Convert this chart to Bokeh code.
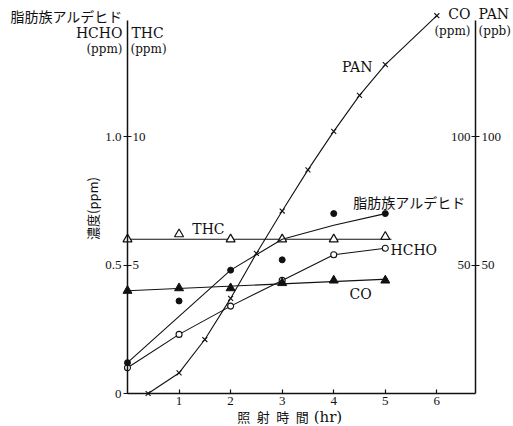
import math
from bokeh.plotting import figure
from bokeh.models import Range1d, LinearAxis, FixedTicker
from bokeh.core.properties import value
from bokeh.embed import file_html
from bokeh.resources import INLINE

# Irradiation time (hr) and measured concentrations
hours = [0, 1, 2, 3, 4, 5]
thc_ppm = [6.0, 6.2, 6.0, 6.0, 6.0, 6.1]
thc_fit_hours = [0, 5.12]
thc_fit_ppm = [6.0, 6.0]
co_ppm = [40, 41, 41, 43, 44, 44]
co_fit_hours = [0, 5.05]
co_fit_ppm = [40, 44.5]
hcho_ppm = [0.10, 0.23, 0.34, 0.44, 0.54, 0.565]
ald_ppm = [0.12, 0.36, 0.48, 0.52, 0.70, 0.70]
ald_curve_ppm = [0.12, 0.30, 0.48, 0.60, 0.655, 0.70]
pan_hours = [0.4, 1, 1.5, 2, 2.5, 3, 3.5, 4, 4.5, 5, 6]
pan_ppb = [0, 8, 21, 37, 54.5, 71, 87, 102, 116, 128, 147]

x_ticks = [1, 2, 3, 4, 5, 6]
left_ticks = [0, 0.5, 1.0]
left_labels = ["0", "0.5", "1.0"]
thc_ticks = [10, 5]
co_ticks = [100, 50]
pan_ticks = [50, 100]

SERIF = "DejaVu Serif"
NUM = "Liberation Serif"
JP = "Noto Sans CJK JP"
INK = "#111111"

T_END = 6.75          # time at the right-hand axis
# the frame fills the whole canvas; axes are pinned at fixed data positions
p = figure(width=513, height=426, output_backend="svg", toolbar_location=None,
           x_range=Range1d(-2.4631, 7.4864), y_range=Range1d(-0.1284, 1.5292),
           min_border=0, min_border_left=0, min_border_right=0,
           min_border_top=0, min_border_bottom=0)
p.extra_y_ranges = {"thc": Range1d(-1.284, 15.292),
                    "co": Range1d(-12.84, 152.92),
                    "pan": Range1d(-12.84, 152.92)}
p.xgrid.visible = False
p.ygrid.visible = False
p.outline_line_color = None
p.background_fill_color = "white"
p.border_fill_color = "white"


def style_axis(ax, tick_in, tick_out, standoff):
    ax.major_tick_in = tick_in
    ax.major_tick_out = tick_out
    ax.minor_tick_line_color = None
    ax.axis_line_width = 1.5
    ax.axis_line_color = INK
    ax.major_tick_line_color = INK
    ax.major_tick_line_width = 1.2
    ax.major_label_standoff = standoff
    ax.major_label_text_font = NUM
    ax.major_label_text_font_size = "13px"
    ax.major_label_text_color = INK


# bottom axis: time
xa = p.xaxis[0]
xa.fixed_location = 0
xa.ticker = FixedTicker(ticks=x_ticks)
xa.bounds = (0, T_END)
style_axis(xa, 4, 0, 3)

# left axis: HCHO / aldehyde (ppm)
ya = p.yaxis[0]
ya.fixed_location = 0
ya.ticker = FixedTicker(ticks=left_ticks)
ya.major_label_overrides = dict(zip(left_ticks, left_labels))
ya.bounds = (0, 1.45)
style_axis(ya, 4, 4, 2)

# right axis: PAN (ppb)
ra = LinearAxis(y_range_name="pan", ticker=FixedTicker(ticks=pan_ticks),
                bounds=(0, 145), fixed_location=T_END)
style_axis(ra, 4, 4, 2)
p.add_layout(ra, "right")


def txt(x, y, s, align, font, size, rng="default", angle=0.0):
    p.text(x=[x], y=[y], text=[s], y_range_name=rng, angle=angle,
           text_align=align, text_baseline="middle",
           text_font=value(font), text_font_size=size, text_color=INK)


# inner scale labels: THC beside the left axis, CO beside the right axis
p.text(x=[0] * len(thc_ticks), y=thc_ticks, text=[str(t) for t in thc_ticks], y_range_name="thc",
       x_offset=5, text_align="left", text_baseline="middle",
       text_font=value(NUM), text_font_size="13px", text_color=INK)
p.text(x=[T_END] * len(co_ticks), y=co_ticks, text=[str(t) for t in co_ticks], y_range_name="co",
       x_offset=-5, text_align="right", text_baseline="middle",
       text_font=value(NUM), text_font_size="13px", text_color=INK)

LW = 1.1
# THC
p.line(thc_fit_hours, thc_fit_ppm, y_range_name="thc", line_color=INK, line_width=LW)
p.scatter(hours, thc_ppm, y_range_name="thc", marker="triangle", size=9,
          fill_color="white", line_color=INK, line_width=1.2)
# CO
p.line(co_fit_hours, co_fit_ppm, y_range_name="co", line_color=INK, line_width=LW)
# HCHO
p.line(hours, hcho_ppm, line_color=INK, line_width=LW)
p.scatter(hours, hcho_ppm, marker="circle", size=6, fill_color="white", line_color=INK, line_width=1.1)
p.scatter(hours, co_ppm, y_range_name="co", marker="triangle", size=9,
          fill_color=INK, line_color=INK)
# aliphatic aldehydes
p.line(hours, ald_curve_ppm, line_color=INK, line_width=LW)
p.scatter(hours, ald_ppm, marker="circle", size=6, fill_color=INK, line_color=INK)
# PAN
p.line(pan_hours, pan_ppb, y_range_name="pan", line_color=INK, line_width=LW)
p.scatter(pan_hours, pan_ppb, y_range_name="pan", marker="x", size=7, line_color=INK, line_width=1.1)

# series names
txt(4.75, 1.272, "PAN", "right", SERIF, "14px")
txt(1.57, 0.642, "THC", "center", SERIF, "14px")
txt(4.38, 0.747, "脂肪族アルデヒド", "left", JP, "14px")
txt(5.10, 0.560, "HCHO", "left", SERIF, "14px")
txt(4.52, 0.389, "CO", "center", SERIF, "14px")

# scale headers above the axes
txt(-2.269, 1.467, "脂肪族アルデヒド", "left", JP, "14px")
txt(-0.097, 1.401, "HCHO", "right", SERIF, "14px")
txt(0.078, 1.401, "THC", "left", SERIF, "14px")
txt(-0.097, 1.339, "(ppm)", "right", SERIF, "12px")
txt(0.058, 1.339, "(ppm)", "left", SERIF, "12px")
txt(6.653, 1.475, "CO", "right", SERIF, "14px")
txt(6.808, 1.475, "PAN", "left", SERIF, "14px")
txt(6.653, 1.412, "(ppm)", "right", SERIF, "12px")
txt(6.808, 1.412, "(ppb)", "left", SERIF, "12px")

# axis titles
txt(2.13, -0.0895, "照\u2002射\u2002時\u2002間", "left", JP, "13px")
txt(3.61, -0.0895, "(hr)", "left", SERIF, "15px")
txt(-0.679, 0.720, "濃度(ppm)", "center", JP, "13px", angle=math.pi / 2)

open("out.html", "w").write(file_html(p, INLINE))
